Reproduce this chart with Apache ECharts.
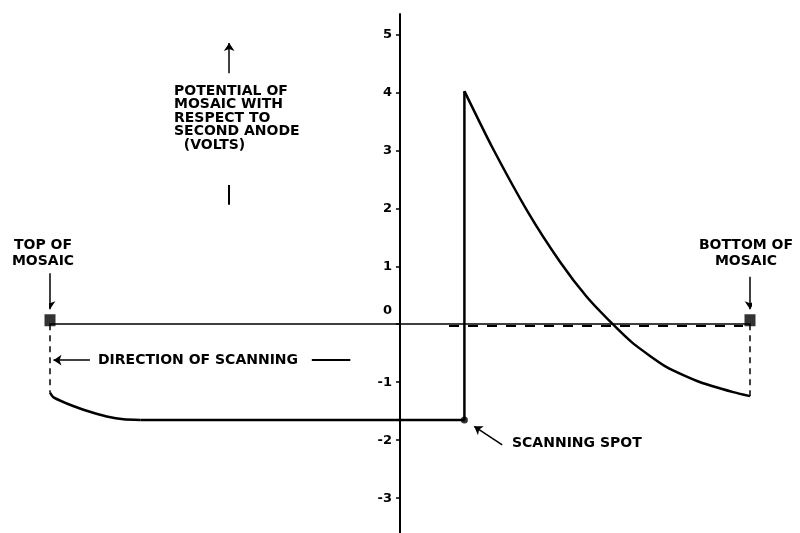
<!DOCTYPE html>
<html>
<head>
<meta charset="utf-8">
<script src="https://cdn.jsdelivr.net/npm/echarts@6/dist/echarts.min.js"></script>
<style>html,body{margin:0;padding:0;background:#fff}#c{width:800px;height:533px}</style>
</head>
<body>
<div id="c"></div>
<script>
// ---- data (position along mosaic: -50 = top of mosaic, 50 = bottom; potential in volts) ----
var yTicks = [-3, -2, -1, 0, 1, 2, 3, 4, 5];
var decayX = [-50, -49.5, -46.7, -44.3, -41.9, -39.5, -37.1];
var decayY = [-1.18, -1.26, -1.41, -1.51, -1.59, -1.64, -1.65];
var flatX = [-37.1, 9.2, 9.2];
var flatY = [-1.65, -1.65, 4.02];
var riseX = [9.2, 13.1, 18.3, 22.9, 26.7, 30.4, 33.3, 38.1, 42.9, 47.6, 50];
var riseY = [4.02, 3.07, 1.93, 1.07, 0.47, 0, -0.33, -0.74, -1.0, -1.17, -1.24];
var endsX = [-50, 50];
var endsY = [0, 0];
var spotX = [9.2];
var spotY = [-1.65];

function zip(a, b) { return a.map(function (v, i) { return [v, b[i]]; }); }

var chart = echarts.init(document.getElementById('c'), null, {renderer: 'canvas'});
var FONT = '"DejaVu Sans", sans-serif';
var txt = {fontFamily: FONT, fontWeight: 'bold', fontSize: 14, fill: '#000'};

chart.setOption({
  animation: false,
  backgroundColor: '#fff',
  grid: {left: 50, right: 50, top: 14, bottom: 0},
  xAxis: {
    type: 'value', min: -50, max: 50,
    axisLine: {show: true, onZero: true, lineStyle: {color: '#000', width: 1.5}},
    axisTick: {show: false}, axisLabel: {show: false}, splitLine: {show: false}
  },
  yAxis: {
    type: 'value', min: -3.6, max: 5.35, position: 'left', offset: -350,
    axisLine: {show: true, onZero: false, lineStyle: {color: '#000', width: 2}},
    axisTick: {show: true, customValues: yTicks, length: 4, lineStyle: {color: '#000', width: 1.5}},
    axisLabel: {
      show: true, customValues: yTicks, margin: 8,
      color: '#000', fontFamily: FONT, fontWeight: 'bold', fontSize: 13,
      formatter: function (v) { return v === 0 ? '{z|0}' : String(v); },
      rich: {z: {padding: [0, 0, 28, 0], color: '#000', fontFamily: FONT, fontWeight: 'bold', fontSize: 13}}
    },
    splitLine: {show: false}
  },
  series: [
    {type: 'line', data: zip(decayX, decayY), smooth: 0.2, showSymbol: false,
      lineStyle: {color: '#000', width: 2.5}},
    {type: 'line', data: zip(flatX, flatY), showSymbol: false,
      lineStyle: {color: '#000', width: 2.5}},
    {type: 'line', data: zip(riseX, riseY), smooth: 0.2, showSymbol: false,
      lineStyle: {color: '#000', width: 2.5}},
    // dashed verticals from axis to curve ends
    {type: 'line', data: [[endsX[0], 0], [endsX[0], decayY[0]], null, [endsX[1], 0], [endsX[1], riseY[riseY.length - 1]]],
      showSymbol: false, connectNulls: false,
      lineStyle: {color: '#000', width: 1.5, type: [6, 5]}},
    // dashed overlay on zero line
    {type: 'line', data: [[7, -0.03], [49, -0.03]], showSymbol: false,
      lineStyle: {color: '#000', width: 2, type: [10, 9]}},
    // mosaic end markers
    {type: 'scatter', data: zip(endsX, endsY), symbol: 'rect', symbolSize: [11, 12], symbolOffset: [0, -4],
      itemStyle: {color: '#000'}},
    // scanning spot
    {type: 'scatter', data: zip(spotX, spotY), symbol: 'circle', symbolSize: 7, itemStyle: {color: '#000'}},
    // annotation arrows
    {type: 'lines', coordinateSystem: 'cartesian2d', symbol: ['none', 'arrow'], symbolSize: 8,
      lineStyle: {color: '#000', width: 1.5, opacity: 1},
      data: [
        {coords: [[-50, 0.88], [-50, 0.26]]},
        {coords: [[50, 0.82], [50, 0.26]]},
        {coords: [[-24.4, 4.33], [-24.4, 4.85]]},
        {coords: [[-44.3, -0.62], [-49.5, -0.62]]},
        {coords: [[14.6, -2.08], [10.6, -1.76]]}
      ]},
    {type: 'lines', coordinateSystem: 'cartesian2d', symbol: ['none', 'none'],
      lineStyle: {color: '#000', width: 2, opacity: 1},
      data: [
        {coords: [[-24.4, 2.4], [-24.4, 2.06]]},
        {coords: [[-12.6, -0.62], [-7.1, -0.62]]}
      ]}
  ],
  graphic: [
    {type: 'text', x: 43, y: 253, style: Object.assign({text: 'TOP OF\nMOSAIC', textAlign: 'center', textVerticalAlign: 'middle', lineHeight: 16}, txt)},
    {type: 'text', x: 746, y: 253, style: Object.assign({text: 'BOTTOM OF\nMOSAIC', textAlign: 'center', textVerticalAlign: 'middle', lineHeight: 16}, txt)},
    {type: 'text', x: 174, y: 118, style: Object.assign({text: 'POTENTIAL OF\nMOSAIC WITH\nRESPECT TO\nSECOND ANODE\n  (VOLTS)', textAlign: 'left', textVerticalAlign: 'middle', lineHeight: 13.5}, txt)},
    {type: 'text', x: 98, y: 360, style: Object.assign({text: 'DIRECTION OF SCANNING', textAlign: 'left', textVerticalAlign: 'middle'}, txt)},
    {type: 'text', x: 512, y: 443, style: Object.assign({text: 'SCANNING SPOT', textAlign: 'left', textVerticalAlign: 'middle'}, txt)}
  ]
});
</script>
</body>
</html>
